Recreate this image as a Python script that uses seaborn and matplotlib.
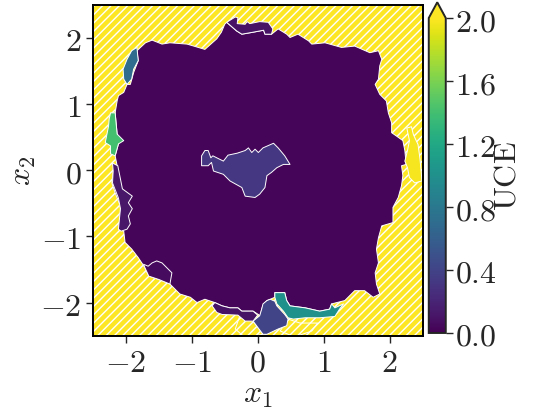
import numpy as np
import matplotlib
matplotlib.use("Agg")
import matplotlib.pyplot as plt
import matplotlib.colors as mcolors
from matplotlib.collections import PolyCollection
from matplotlib.ticker import FuncFormatter
import seaborn as sns

sns.set_style("ticks")
plt.rcParams['font.family'] = ['DejaVu Serif']
plt.rcParams['mathtext.fontset'] = 'cm'
plt.rcParams['hatch.color'] = 'white'
plt.rcParams['hatch.linewidth'] = 1.0

#==============================================================================
#                              region data (x1, x2) and UCE
#==============================================================================
outer_region = [(-2.5, -2.5), (2.5, -2.5), (2.5, 2.5), (-2.5, 2.5)]

cell_a = [(-0.27, -2.20), (-0.07, -2.28), (0.08, -2.48), (-0.19, -2.53), (-0.34, -2.40)]
cell_b = [(0.46, -2.25), (0.64, -2.31), (0.91, -2.31), (0.82, -2.43), (0.56, -2.52), (0.34, -2.43)]

main_region = [(-1.83, 1.81), (-1.70, 1.93), (-1.60, 1.97), (-1.45, 1.91), (-1.33, 1.93), (-1.07, 1.91),
               (-0.80, 1.83), (-0.62, 1.99), (-0.55, 2.09), (-0.50, 2.21), (-0.47, 2.24), (-0.32, 2.11),
               (-0.24, 2.06), (-0.07, 2.09), (0.09, 2.12), (0.11, 2.06), (0.21, 2.06), (0.31, 2.14),
               (0.44, 2.06), (0.49, 2.01), (0.61, 2.06), (0.77, 1.96), (0.82, 1.91), (1.02, 1.93),
               (1.27, 1.86), (1.47, 1.88), (1.70, 1.78), (1.83, 1.81), (1.88, 1.68), (1.85, 1.58),
               (1.83, 1.38), (1.78, 1.30), (1.85, 1.15), (1.95, 1.05), (1.98, 0.87), (2.03, 0.72),
               (2.03, 0.57), (2.13, 0.50), (2.20, 0.45), (2.23, 0.30), (2.25, 0.09), (2.18, 0.07),
               (2.20, -0.08), (2.18, -0.23), (2.13, -0.41), (2.05, -0.56), (2.05, -0.79), (1.88, -0.84),
               (1.83, -1.02), (1.80, -1.19), (1.83, -1.40), (1.78, -1.55), (1.80, -1.72), (1.85, -1.87),
               (1.75, -1.92), (1.62, -1.82), (1.47, -1.82), (1.32, -1.97), (1.20, -2.00), (1.12, -2.02),
               (1.09, -2.10), (0.94, -2.13), (0.72, -2.08), (0.49, -2.05), (0.44, -1.97), (0.41, -1.85),
               (0.26, -1.85), (0.26, -1.92), (0.19, -1.95), (0.14, -1.97), (0.09, -2.02), (0.06, -2.10),
               (0.04, -2.20), (-0.07, -2.13), (-0.24, -2.13), (-0.30, -2.08), (-0.42, -2.08), (-0.54, -2.05),
               (-0.65, -2.00), (-0.80, -1.95), (-0.92, -2.00), (-1.02, -1.92), (-1.18, -1.87), (-1.33, -1.72),
               (-1.50, -1.65), (-1.65, -1.60), (-1.71, -1.47), (-1.81, -1.32), (-1.91, -1.19), (-2.01, -1.09),
               (-2.03, -0.92), (-2.11, -0.89), (-2.08, -0.69), (-2.08, -0.54), (-2.16, -0.34), (-2.21, -0.19),
               (-2.19, -0.03), (-2.13, 0.07), (-2.16, 0.22), (-2.11, 0.40), (-2.13, 0.55), (-2.16, 0.87),
               (-2.13, 1.05), (-2.11, 1.13), (-2.03, 1.18), (-1.98, 1.30), (-1.93, 1.30), (-1.88, 1.48),
               (-1.81, 1.66)]

top_bump = [(-0.47, 2.24), (-0.34, 2.32), (-0.30, 2.31), (-0.31, 2.22), (-0.19, 2.21), (-0.16, 2.25),
            (-0.12, 2.22), (0.03, 2.25), (0.16, 2.24), (0.23, 2.14), (0.21, 2.06), (0.11, 2.06),
            (0.09, 2.12), (-0.07, 2.09), (-0.24, 2.06), (-0.32, 2.11)]

blue_region = [(-1.83, 1.86), (-1.81, 1.66), (-1.88, 1.53), (-1.91, 1.38), (-1.98, 1.30), (-2.03, 1.38),
               (-2.04, 1.53), (-1.98, 1.68), (-1.91, 1.81)]

green_region = [(-2.23, 0.87), (-2.16, 0.87), (-2.13, 0.55), (-2.03, 0.45), (-2.11, 0.40), (-2.16, 0.22),
                (-2.23, 0.25), (-2.23, 0.37), (-2.31, 0.42), (-2.26, 0.67), (-2.25, 0.78)]

centre_blob = [(-0.85, 0.22), (-0.80, 0.30), (-0.75, 0.30), (-0.71, 0.19), (-0.68, 0.22), (-0.52, 0.14),
               (-0.45, 0.23), (-0.31, 0.26), (-0.19, 0.30), (-0.14, 0.34), (-0.09, 0.27), (-0.04, 0.32),
               (0.01, 0.27), (0.08, 0.34), (0.24, 0.41), (0.31, 0.34), (0.41, 0.22), (0.49, 0.09),
               (0.39, 0.09), (0.29, 0.04), (0.21, -0.03), (0.14, -0.08), (0.11, -0.26), (0.03, -0.36),
               (-0.04, -0.41), (-0.19, -0.39), (-0.24, -0.26), (-0.42, -0.16), (-0.52, -0.06), (-0.67, -0.01),
               (-0.70, 0.12), (-0.75, 0.07), (-0.85, 0.07)]

right_region = [(2.26, 0.64), (2.33, 0.66), (2.36, 0.54), (2.43, 0.39), (2.46, 0.17), (2.49, -0.16),
                (2.38, -0.19), (2.30, -0.11), (2.27, 0.04), (2.23, 0.14), (2.27, 0.30), (2.30, 0.45)]

teal_region = [(0.26, -1.85), (0.41, -1.85), (0.44, -1.97), (0.49, -2.05), (0.72, -2.08), (0.94, -2.13),
               (1.09, -2.10), (1.12, -2.02), (1.17, -2.08), (1.30, -2.02), (1.24, -2.10), (1.17, -2.21),
               (0.94, -2.23), (0.72, -2.23), (0.54, -2.25), (0.46, -2.23), (0.39, -2.13), (0.29, -2.02),
               (0.26, -1.92)]

bottom_region = [(0.19, -1.95), (0.26, -1.98), (0.29, -2.05), (0.41, -2.18), (0.46, -2.25), (0.44, -2.35),
                 (0.31, -2.40), (0.14, -2.48), (0.08, -2.48), (-0.07, -2.28), (0.03, -2.20), (0.06, -2.10),
                 (0.08, -2.02), (0.14, -1.97)]

left_strip = [(-2.20, 0.11), (-2.12, 0.07), (-2.05, -0.28), (-1.90, -0.39), (-1.96, -0.49), (-1.90, -0.58),
              (-1.96, -0.69), (-1.93, -0.81), (-1.98, -0.89), (-2.07, -0.92), (-2.11, -0.89), (-2.08, -0.58),
              (-2.11, -0.42), (-2.20, -0.19), (-2.19, -0.01)]

lower_bump = [(-1.73, -1.42), (-1.66, -1.45), (-1.60, -1.40), (-1.53, -1.37), (-1.45, -1.40), (-1.40, -1.45),
              (-1.30, -1.55), (-1.33, -1.72), (-1.50, -1.65), (-1.65, -1.60), (-1.71, -1.47)]

bottom_strip = [(-0.65, -2.00), (-0.54, -2.05), (-0.42, -2.08), (-0.30, -2.08), (-0.24, -2.13), (-0.07, -2.13),
                (0.00, -2.19), (-0.07, -2.28), (-0.19, -2.28), (-0.30, -2.19), (-0.54, -2.18), (-0.62, -2.15),
                (-0.69, -2.05)]

over_regions = [outer_region, cell_a, cell_b]
over_uce = [3.0, 2.6, 2.4]

regions = [main_region, top_bump, blue_region, green_region, centre_blob, right_region,
           teal_region, bottom_region, left_strip, lower_bump, bottom_strip]
uce = [0.03, 0.10, 0.70, 1.40, 0.32, 1.97, 1.00, 0.40, 0.12, 0.06, 0.10]

cbar_ticks = [0.0, 0.4, 0.8, 1.2, 1.6, 2.0]

#==============================================================================
#                              plot
#==============================================================================
cmap = sns.color_palette("viridis", as_cmap=True)
norm = mcolors.Normalize(vmin=0.0, vmax=2.0)

fig = plt.figure(figsize=(5.4, 4.1), dpi=100)
ax = fig.add_axes([0.1717, 0.179, 0.611, 0.8061])
cax = fig.add_axes([0.794, 0.1854, 0.0315, 0.8066])

hatched = PolyCollection(over_regions, cmap=cmap, norm=norm, edgecolors='white',
                         linewidths=0.7, hatch='////')
hatched.set_array(np.array(over_uce))
ax.add_collection(hatched)

coll = PolyCollection(regions, cmap=cmap, norm=norm, edgecolors='white', linewidths=0.7)
coll.set_array(np.array(uce))
ax.add_collection(coll)

ax.set_xlim(-2.5, 2.5)
ax.set_ylim(-2.5, 2.5)
ax.set_xticks([-2, -1, 0, 1, 2])
ax.set_yticks([-2, -1, 0, 1, 2])
fmt = FuncFormatter(lambda v, p: r'$%g$' % v)
ax.xaxis.set_major_formatter(fmt)
ax.yaxis.set_major_formatter(fmt)
ax.tick_params(labelsize=23, length=5, width=1.0, direction='out', pad=3)
for s in ax.spines.values():
    s.set_linewidth(1.4)
    s.set_color('black')
ax.set_xlabel(r'$x_1$', fontsize=23, labelpad=0)
ax.set_ylabel(r'$x_2$', fontsize=23, labelpad=2)

cb = fig.colorbar(coll, cax=cax, extend='max', ticks=cbar_ticks)
cb.ax.yaxis.set_major_formatter(FuncFormatter(lambda v, p: r'$%.1f$' % v))
cb.ax.tick_params(labelsize=23, length=5, width=1.0, pad=2)
cb.outline.set_linewidth(1.4)
cb.set_label(r'$\mathrm{UCE}$', fontsize=23, labelpad=-4)

fig.savefig("out.png", dpi=100)
